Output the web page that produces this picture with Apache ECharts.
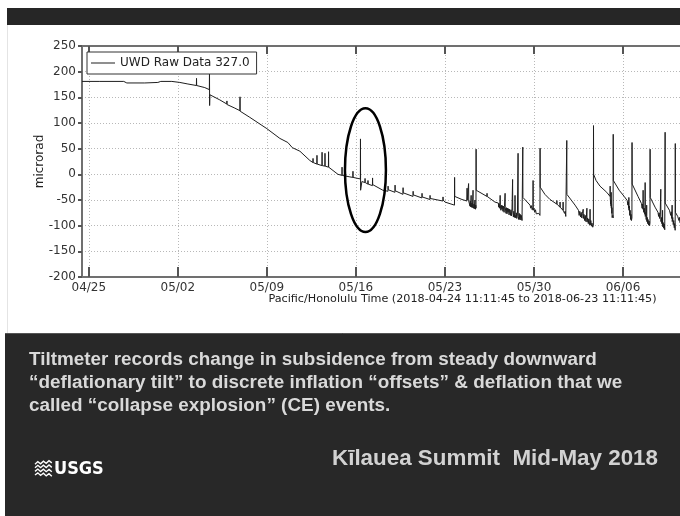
<!DOCTYPE html>
<html><head><meta charset="utf-8">
<script src="https://cdn.jsdelivr.net/npm/echarts@6/dist/echarts.min.js"></script>
<style>html,body{margin:0;padding:0;background:#fff}#c{width:680px;height:516px}</style>
</head><body><div id="c"></div>
<script>
// ---- data: x = days since 2018-04-25 00:00 (Pacific/Honolulu), y = microrad ----
const seriesName = 'UWD Raw Data 327.0';
const tickDays = [0, 7, 14, 21, 28, 35, 42];
const tickLabels = ['04/25', '05/02', '05/09', '05/16', '05/23', '05/30', '06/06'];

const steadyDeflation = [
  [-0.53,181],[0.87,181],[2.75,181],[2.99,178],[4.40,178],[5.43,179],[5.66,181],[6.53,181],[7.16,179],[7.79,176],
  [8.46,173],[8.47,187],[8.48,173],[9.12,169],[9.48,165],[9.49,206],[9.50,134],[9.52,155],[10.30,145],[10.85,137],
  [10.86,143],[10.87,136],[11.48,129],[11.88,124],[11.89,151],[11.90,123],[12.66,111],[14.0,89],[15.02,70],[15.65,62],
  [15.8,59],[16.0,52],[16.6,45],[17.38,27]
];
const transition = [
  [17.62,23],[17.63,31],[17.64,23],
  [17.93,20],[17.94,37],[17.95,20],
  [18.33,17],[18.34,43],[18.35,17],
  [18.56,16],[18.57,41],[18.58,16],
  [18.84,14],[18.85,44],[18.86,14],
  [19.59,0],
  [19.9,-2],[19.91,14],[19.92,-2],
  [20.53,-5],
  [20.76,-6],[20.77,6],[20.78,-6],
  [21.35,-9],[21.36,69],[21.37,-31],[21.47,-14],
  [21.71,-16],[21.72,-8],[21.73,-16],
  [21.94,-19],[21.95,-12],[21.96,-19],
  [22.3,-22],[22.31,-7],[22.32,-20],
  [23.12,-31]
];
const ceEventsMay = [
  [23.52,-33],[23.53,-23],[23.54,-30],
  [24.07,-35],[24.08,-21],[24.09,-32],
  [24.7,-39],[24.71,-26],[24.72,-36],
  [25.49,-43],[25.50,-33],[25.51,-40],
  [26.19,-46],[26.20,-37],[26.21,-44],
  [26.82,-49],[26.83,-41],[26.84,-47],
  [27.84,-52],[27.85,-44],[27.86,-50],
  [28.0,-54],
  [28.75,-60],[28.76,-6],[28.77,-43],
  [29.34,-49],
  [29.73,-52],[29.74,-27],[29.75,-50],
  [29.85,-53],[29.86,-18],[29.87,-52],
  [29.95,-54],[29.97,-62],[29.99,-52],[30.01,-63],[30.03,-55],
  [30.05,-56],[30.06,-41],[30.07,-58],[30.1,-64],[30.12,-56],[30.15,-65],[30.17,-58],
  [30.2,-60],[30.21,-31],[30.22,-62],[30.26,-66],[30.28,-58],[30.31,-67],
  [30.35,-64],[30.36,-50],[30.37,-63],[30.40,-68],[30.42,-60],
  [30.44,-66],[30.45,49],[30.46,-31],
  [31.3,-43],[31.31,-37],[31.32,-43],
  [31.93,-54],
  [32.2,-56],[32.23,-64],[32.26,-57],[32.29,-66],
  [32.33,-58],[32.34,-41],[32.35,-60],[32.4,-70],[32.43,-60],[32.48,-68],[32.52,-61],[32.56,-72],[32.6,-62],[32.65,-74],[32.68,-63],
  [32.72,-62],[32.73,-37],[32.74,-64],[32.8,-76],[32.84,-65],[32.88,-77],[32.92,-66],[32.96,-74],[33.0,-67],[33.04,-79],[33.08,-68],
  [33.11,-66],[33.15,-80],[33.19,-69],[33.23,-81],[33.27,-70],
  [33.31,-70],[33.32,-10],[33.33,-70],[33.38,-83],[33.42,-72],[33.46,-84],
  [33.5,-74],[33.51,-41],[33.52,-78],[33.57,-85],[33.61,-75],[33.65,-86],[33.7,-77],
  [33.74,-80],[33.75,41],[33.76,-82],[33.8,-88],[33.84,-76],[33.88,-88],[33.92,-78],[33.97,-89],[34.01,-80],[34.06,-90],
  [34.11,-89],[34.12,53],[34.13,-45],
  [34.69,-60],[34.75,-66],[34.8,-61],[34.86,-69],
  [34.92,-64],[34.93,-12],[34.94,-70],[35.0,-66],[35.06,-74],[35.12,-69],[35.18,-77],[35.24,-74],[35.3,-79],[35.38,-76],
  [35.47,-80],[35.48,51],[35.49,-25]
];
const ceEventsJune = [
  [35.86,-39],[36.26,-49],
  [36.79,-58],[36.80,-51],[36.81,-58],
  [37.04,-64],[37.05,-54],[37.06,-64],
  [37.28,-70],[37.29,-54],[37.30,-70],
  [37.4,-76],[37.45,-72],[37.5,-82],
  [37.57,-85],[37.58,66],[37.59,-39],
  [38.23,-60],
  [38.5,-70],[38.55,-80],[38.6,-72],[38.66,-83],[38.71,-74],[38.76,-85],[38.81,-76],
  [38.86,-78],[38.87,-68],[38.88,-86],[38.93,-78],[38.98,-90],[39.03,-80],[39.08,-92],[39.12,-83],
  [39.15,-86],[39.16,-66],[39.17,-93],[39.22,-85],[39.27,-96],[39.31,-87],[39.36,-98],
  [39.4,-93],[39.41,-68],[39.42,-99],[39.47,-90],[39.52,-101],[39.56,-95],[39.62,-103],
  [39.67,-99],[39.68,95],[39.69,0],
  [39.88,-12],[40.19,-23],[40.72,-35],
  [40.98,-43],[40.99,-23],[41.0,-48],[41.03,-58],[41.05,-50],
  [41.06,-62],[41.07,-35],[41.08,-66],[41.1,-58],[41.12,-76],[41.13,-65],[41.14,-84],[41.2,-80],
  [41.22,-85],[41.23,78],[41.24,-12],
  [41.7,-31],[42.09,-43],
  [42.33,-51],[42.38,-60],[42.41,-54],
  [42.45,-66],[42.46,-45],[42.47,-70],[42.5,-62],[42.53,-80],[42.56,-70],[42.6,-88],[42.63,-78],[42.66,-90],
  [42.7,-85],[42.71,62],[42.72,-19],
  [43.18,-43],
  [43.45,-57],[43.5,-66],[43.54,-58],
  [43.57,-68],[43.58,-31],[43.59,-64],[43.63,-74],[43.67,-66],[43.71,-78],
  [43.73,-70],[43.74,-16],[43.75,-82],[43.79,-74],[43.82,-88],
  [43.85,-80],[43.86,-60],[43.87,-92],[43.91,-84],[43.94,-96],[43.97,-88],[44.01,-99],[44.05,-91],[44.09,-100],
  [44.12,-95],[44.13,49],[44.14,-45],
  [44.52,-64],
  [44.75,-74],[44.8,-82],[44.84,-75],[44.88,-86],[44.92,-78],
  [44.96,-80],[44.97,-29],[44.98,-92],[45.02,-84],[45.05,-96],[45.08,-88],
  [45.1,-99],[45.11,-70],[45.12,-102],[45.16,-94],[45.2,-105],[45.24,-97],[45.28,-108],
  [45.3,-107],[45.31,82],[45.32,-56],
  [45.65,-70],[45.75,-80],[45.79,-73],[45.83,-86],
  [45.85,-78],[45.86,-60],[45.87,-92],[45.91,-84],[45.95,-98],[45.99,-90],[46.03,-104],[46.06,-96],
  [46.1,-109],[46.11,60],[46.12,-74],
  [46.3,-82],[46.4,-90],[46.44,-84],[46.48,-94],[46.53,-89],[47.3,-101]
];
// full record spans 2018-04-24 11:11:45 to 2018-06-23 11:11:45; the slide crops it at ~06/10
const axisRangeDays = [-0.5335, 46.48];
const ellipseDays = [20.14, 21.75, 23.36];   // left, centre, right
const ellipseValues = [-113, 8, 128];        // bottom, centre, top

const paragraph = [
  'Tiltmeter records change in subsidence from steady downward',
  '\u201cdeflationary tilt\u201d to discrete inflation \u201coffsets\u201d & deflation that we',
  'called \u201ccollapse explosion\u201d (CE) events.'
];
const slideTitle = 'K\u012blauea Summit  Mid-May 2018';

// ---- build ----
const allPts = steadyDeflation.concat(transition, ceEventsMay, ceEventsJune);
const FONT = '"DejaVu Sans", sans-serif';
const axisCol = '#707070';

const chart = echarts.init(document.getElementById('c'), null, {renderer: 'canvas'});
chart.setOption({
  animation: false,
  backgroundColor: '#ffffff',
  grid: {left: 82, top: 46, right: 0, bottom: 239, containLabel: false},
  legend: {
    data: [{name: seriesName, icon: 'path://M0,0 L24,0 L24,1 L0,1 Z'}],
    left: 87, top: 52, orient: 'vertical',
    itemWidth: 24, itemHeight: 1, itemGap: 0,
    padding: [5, 7, 5, 4],
    borderColor: '#333', borderWidth: 1, backgroundColor: '#fff',
    textStyle: {fontFamily: FONT, fontSize: 12, color: '#222'},
    z: 10
  },
  xAxis: [{
    type: 'value', position: 'bottom',
    min: axisRangeDays[0], max: axisRangeDays[1],
    name: 'Pacific/Honolulu Time (2018-04-24 11:11:45 to 2018-06-23 11:11:45)',
    nameLocation: 'middle', nameGap: 17, nameMoveOverlap: false,
    nameTextStyle: {fontFamily: FONT, fontSize: 11.2, color: '#222', padding: [0, 0, 0, 163], verticalAlign: 'top'},
    axisLine: {show: true, onZero: false, lineStyle: {color: axisCol, width: 2}},
    axisTick: {show: true, inside: true, length: 10, customValues: tickDays, lineStyle: {color: '#555', width: 2}},
    axisLabel: {show: true, customValues: tickDays, fontFamily: FONT, fontSize: 12, color: '#333', margin: 5,
      formatter: v => { const i = tickDays.indexOf(Math.round(v)); return i >= 0 ? tickLabels[i] : ''; }},
    splitLine: {show: true, lineStyle: {color: '#b8b8b8', type: [1, 2], width: 1}}
  }, {
    type: 'value', position: 'top',
    min: axisRangeDays[0], max: axisRangeDays[1],
    axisLine: {show: true, onZero: false, lineStyle: {color: axisCol, width: 2}},
    axisTick: {show: true, inside: true, length: 8, customValues: tickDays, lineStyle: {color: '#555', width: 2}},
    axisLabel: {show: false, customValues: tickDays},
    splitLine: {show: false}
  }],
  yAxis: {
    type: 'value', min: -200, max: 250, interval: 50,
    name: 'microrad', nameLocation: 'middle', nameGap: 42, nameMoveOverlap: false,
    nameTextStyle: {fontFamily: FONT, fontSize: 12, color: '#222', verticalAlign: 'middle'},
    axisLine: {show: true, onZero: false, lineStyle: {color: axisCol, width: 2}},
    axisTick: {show: true, inside: false, length: 4, lineStyle: {color: '#555', width: 2}},
    axisLabel: {fontFamily: FONT, fontSize: 12, color: '#333', margin: 6},
    splitLine: {show: true, lineStyle: {color: '#b8b8b8', type: [1, 2], width: 1}}
  },
  series: [{
    name: seriesName, type: 'line', xAxisIndex: 0,
    data: allPts, showSymbol: false, symbol: 'none',
    lineStyle: {color: '#1e1e1e', width: 1},
    itemStyle: {color: '#1e1e1e'},
    z: 3
  }]
});

// ellipse annotation and slide elements
const toPx = p => chart.convertToPixel({xAxisIndex: 0, yAxisIndex: 0}, p);
const c = toPx([ellipseDays[1], ellipseValues[1]]);
const l = toPx([ellipseDays[0], ellipseValues[1]]);
const r = toPx([ellipseDays[2], ellipseValues[1]]);
const t = toPx([ellipseDays[1], ellipseValues[2]]);
const b = toPx([ellipseDays[1], ellipseValues[0]]);

const waves = [];
for (let k = 0; k < 4; k++) {
  const pts = [];
  for (let s = 0; s <= 6; s++) pts.push([35 + s * 2.8, 463 + k * 3.6 + (s % 2 ? -1.2 : 1.2) + s * 0.15 * (k - 1.5)]);
  waves.push({type: 'polyline', shape: {points: pts}, style: {stroke: '#ffffff', lineWidth: 1.4, fill: null}, z: 101});
}

const DARK = '#282828';
chart.setOption({
  graphic: [
    {type: 'rect', shape: {x: 7, y: 8, width: 680, height: 17}, style: {fill: '#262626'}, z: 100},
    {type: 'line', shape: {x1: 7.5, y1: 25, x2: 7.5, y2: 333}, style: {stroke: '#e4e4e4', lineWidth: 1}, z: 100},
    {type: 'rect', shape: {x: 5, y: 333, width: 680, height: 190}, style: {fill: DARK}, z: 100},
    {type: 'line', shape: {x1: 5, y1: 333.5, x2: 680, y2: 333.5}, style: {stroke: '#555', lineWidth: 1}, z: 101},
    {type: 'ellipse', shape: {cx: c[0], cy: c[1], rx: (r[0] - l[0]) / 2, ry: (b[1] - t[1]) / 2},
      style: {stroke: '#000', lineWidth: 2.5, fill: null}, z: 50},
    ...paragraph.map((txt, i) => ({type: 'text', z: 102, x: 29, y: 360 + i * 23, scaleX: 1.05,
      style: {text: txt, x: 0, y: 0, fill: '#d9d9d9', font: 'bold 18px "Liberation Sans", Arial, sans-serif', textVerticalAlign: 'middle'}})),
    {type: 'text', z: 102, style: {text: slideTitle, x: 658, y: 459, fill: '#d2d2d2', textAlign: 'right', textVerticalAlign: 'middle',
      font: 'bold 22.4px "Liberation Sans", Arial, sans-serif'}},
    ...waves,
    {type: 'text', z: 102, style: {text: 'USGS', x: 54, y: 469, fill: '#ffffff', textVerticalAlign: 'middle',
      font: 'bold 18px "Liberation Sans Narrow", "DejaVu Sans Condensed", sans-serif'}}
  ]
});
</script></body></html>
